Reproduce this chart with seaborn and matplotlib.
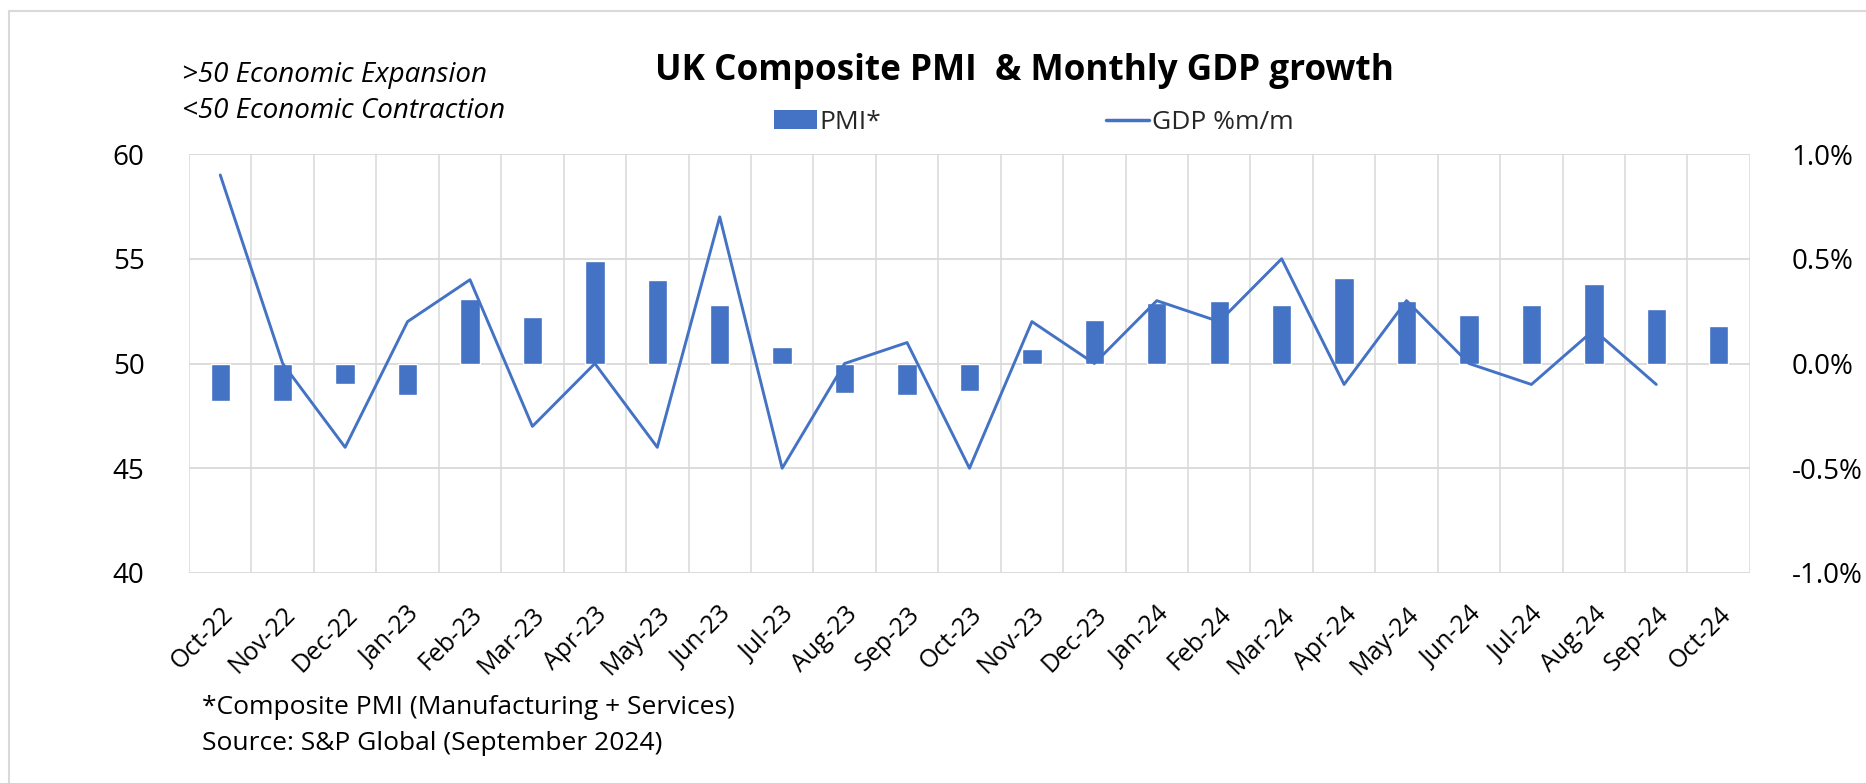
import numpy as np
import pandas as pd
import matplotlib
matplotlib.use("Agg")
import matplotlib.pyplot as plt
from matplotlib.lines import Line2D
from matplotlib.patches import Patch
from matplotlib.ticker import FuncFormatter, MultipleLocator
import seaborn as sns

months = ["Oct-22", "Nov-22", "Dec-22", "Jan-23", "Feb-23", "Mar-23", "Apr-23",
          "May-23", "Jun-23", "Jul-23", "Aug-23", "Sep-23", "Oct-23", "Nov-23",
          "Dec-23", "Jan-24", "Feb-24", "Mar-24", "Apr-24", "May-24", "Jun-24",
          "Jul-24", "Aug-24", "Sep-24", "Oct-24"]
pmi = [48.2, 48.2, 49.0, 48.5, 53.1, 52.2, 54.9, 54.0, 52.8, 50.8, 48.6, 48.5,
       48.7, 50.7, 52.1, 52.9, 53.0, 52.8, 54.1, 53.0, 52.3, 52.8, 53.8, 52.6, 51.8]
gdp = [0.9, 0.0, -0.4, 0.2, 0.4, -0.3, 0.0, -0.4, 0.7, -0.5, 0.0, 0.1,
       -0.5, 0.2, 0.0, 0.3, 0.2, 0.5, -0.1, 0.3, 0.0, -0.1, 0.16, -0.1, np.nan]

BLUE = "#4472C4"
GRID = "#D9D9D9"

sns.set_theme(style="white")
plt.rcParams["font.family"] = ["Open Sans", "DejaVu Sans"]

df = pd.DataFrame({"month": months, "pmi": pmi, "gdp": gdp})
df["diff"] = df["pmi"] - 50.0
df["pos"] = np.arange(len(df))

fig = plt.figure(figsize=(18.66, 7.83), dpi=100)
ax = fig.add_axes([0.1013, 0.2682, 0.8365, 0.5351])

# PMI bars hang from the 50 line
sns.barplot(data=df, x="month", y="diff", bottom=50, color=BLUE, width=0.31,
            saturation=1, ax=ax, zorder=3)
ax.set_ylim(40, 60)
ax.set_xlim(-0.5, len(months) - 0.5)
ax.yaxis.set_major_locator(MultipleLocator(5))

# GDP line on the secondary axis
ax2 = ax.twinx()
sns.lineplot(data=df, x="pos", y="gdp", color=BLUE, linewidth=2.1, ax=ax2, zorder=4)
ax2.set_ylim(-1.0, 1.0)
ax2.yaxis.set_major_locator(MultipleLocator(0.5))
ax2.yaxis.set_major_formatter(FuncFormatter(lambda v, p: f"{v:.1f}%"))
ax2.set_xlim(-0.5, len(months) - 0.5)

# gridlines: horizontal at value ticks, vertical between categories
for yv in np.arange(40, 61, 5):
    ax.axhline(yv, color=GRID, lw=1.3, zorder=0)
for xv in np.arange(-0.5, len(months), 1.0):
    ax.axvline(xv, color=GRID, lw=1.1, zorder=0)

for a in (ax, ax2):
    for s in a.spines.values():
        s.set_visible(False)
    a.set_xlabel("")
    a.set_ylabel("")
    a.tick_params(length=0)

ax.set_xticks(np.arange(len(months)))
ax.set_xticklabels(months, rotation=45, ha="right", rotation_mode="anchor",
                   fontsize=18, color="black")
ax.tick_params(axis="x", pad=21)
ax.tick_params(axis="y", labelsize=20, labelcolor="black", pad=32)
ax2.tick_params(axis="y", labelsize=20, labelcolor="black", pad=30)

fig.text(0.5488, 0.909, "UK Composite PMI  & Monthly GDP growth", ha="center",
         va="center", fontsize=25.3, fontweight="bold", color="black")
fig.text(0.0975, 0.904, ">50 Economic Expansion", ha="left", va="center",
         fontsize=20, style="italic", color="black")
fig.text(0.0975, 0.858, "<50 Economic Contraction", ha="left", va="center",
         fontsize=20, style="italic", color="black")

handles = [Patch(facecolor=BLUE, edgecolor="none", label="PMI*"),
           Line2D([0], [0], color=BLUE, lw=2.5, label="GDP %m/m")]
fig.legend(handles=handles, loc="center", bbox_to_anchor=(0.5539, 0.8436),
           ncol=2, frameon=False, fontsize=19, handlelength=1.63,
           handleheight=0.72, handletextpad=0.11, columnspacing=8.5)

fig.text(0.108, 0.097, "*Composite PMI (Manufacturing + Services)", ha="left",
         va="center", fontsize=19, color="black")
fig.text(0.108, 0.051, "Source: S&P Global (September 2024)", ha="left",
         va="center", fontsize=19, color="black")

# chart frame
fig.add_artist(Line2D([9 / 1866, 1.01], [1 - 11 / 783, 1 - 11 / 783],
                      transform=fig.transFigure, color="#D9D9D9", lw=1.5))
fig.add_artist(Line2D([9 / 1866, 9 / 1866], [-0.01, 1 - 11 / 783],
                      transform=fig.transFigure, color="#D9D9D9", lw=1.5))

fig.savefig("out.png", dpi=100, facecolor="white")
